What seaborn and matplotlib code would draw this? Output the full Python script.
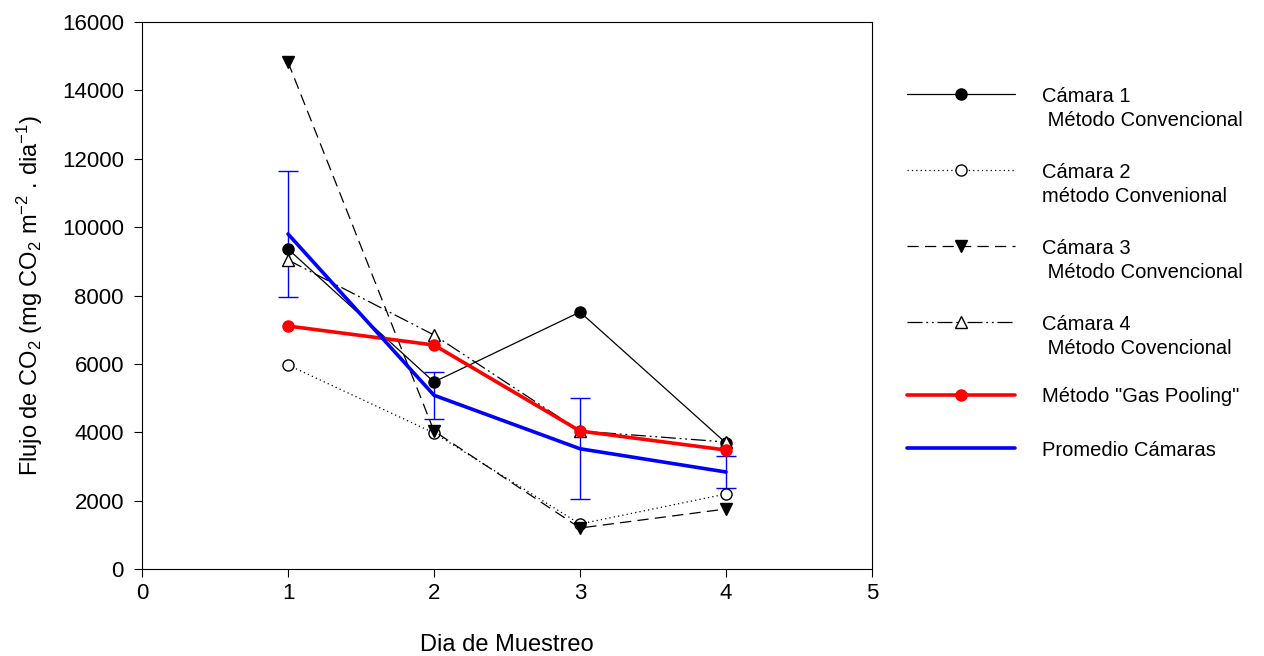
import matplotlib
matplotlib.use("Agg")
import matplotlib.pyplot as plt
import seaborn as sns
import pandas as pd

# Sampling days and CO2 fluxes (mg CO2 m-2 dia-1)
dias = [1, 2, 3, 4]
camara1 = [9360, 5470, 7517, 3685]
camara2 = [5967, 3978, 1316, 2194]
camara3 = [14829, 4036, 1199, 1755]
camara4 = [9038, 6844, 4036, 3715]
gas_pooling = [7107, 6552, 4036, 3480]
promedio = [9800, 5082, 3517, 2837]
promedio_err = [1845, 690, 1477, 482]

etiquetas = [
    ("Cámara 1", " Método Convencional"),
    ("Cámara 2", "método Convenional"),
    ("Cámara 3", " Método Convencional"),
    ("Cámara 4", " Método Covencional"),
    ('Método "Gas Pooling"', None),
    ("Promedio Cámaras", None),
]

sns.set_style("white")
plt.rcParams["font.family"] = ["Liberation Sans", "DejaVu Sans"]
plt.rcParams["mathtext.default"] = "regular"
plt.rcParams["text.color"] = "black"
plt.rcParams["axes.labelcolor"] = "black"

W, H = 1264, 656
fig = plt.figure(figsize=(W / 100, H / 100), dpi=100)
ax = fig.add_axes([142 / W, 1 - 569 / H, 730 / W, 547 / H])

estilos = [
    dict(y=camara1, color="black", lw=0.9, ls="-", marker="o", mfc="black", ms=8),
    dict(y=camara2, color="black", lw=0.9, ls=(0, (1, 2.5)), marker="o", mfc="white", ms=8),
    dict(y=camara3, color="black", lw=0.9, ls=(0, (9, 5)), marker="v", mfc="black", ms=9),
    dict(y=camara4, color="black", lw=0.9, ls=(0, (12, 3, 1.5, 3, 1.5, 3)), marker="^", mfc="white", ms=9),
    dict(y=gas_pooling, color="red", lw=2.6, ls="-", marker="o", mfc="red", ms=8),
    dict(y=promedio, color="blue", lw=2.6, ls="-", marker=None, mfc="blue", ms=0),
]

# Mean of chambers with standard error bars
ax.errorbar(dias, promedio, yerr=promedio_err, fmt="none", ecolor="blue",
            elinewidth=1.0, capsize=7, capthick=1.0, zorder=1)

handles = []
for est, (lab, _) in zip(estilos, etiquetas):
    df = pd.DataFrame({"dia": dias, "flujo": est["y"]})
    sns.lineplot(data=df, x="dia", y="flujo", ax=ax, color=est["color"],
                 linewidth=est["lw"], linestyle=est["ls"], marker=est["marker"],
                 markerfacecolor=est["mfc"], markeredgecolor=est["color"],
                 markersize=est["ms"], markeredgewidth=1.0, label=lab,
                 legend=False, zorder=3)
    handles.append(ax.lines[-1])

ax.set_xlim(0, 5)
ax.set_ylim(0, 16000)
ax.set_xticks([0, 1, 2, 3, 4, 5])
ax.set_yticks(range(0, 16001, 2000))
ax.tick_params(axis="both", direction="out", length=6, width=0.8, labelsize=16,
               left=True, bottom=True, colors="black")
ax.tick_params(axis="y", pad=7)
ax.tick_params(axis="x", pad=4)
for s in ax.spines.values():
    s.set_color("black")
    s.set_linewidth(0.8)

ax.set_xlabel("Dia de Muestreo", fontsize=17, labelpad=22)
ax.set_ylabel("Flujo de CO$_2$ (mg CO$_2$ m$^{-2}$ . dia$^{-1}$)", fontsize=17, labelpad=12)

# Legend: one entry per series, stacked to the right of the axes
fs_leg = 14.5
fila_y = [96, 172, 248, 324, 397, 450]
x_key = 907
key_px = 108
em_px = fs_leg * 100 / 72
for h, (lab, lab2), y in zip(handles, etiquetas, fila_y):
    leg = fig.legend([h], [lab], loc="center left",
                     bbox_to_anchor=(x_key / W, 1 - y / H), frameon=False,
                     fontsize=fs_leg, handlelength=key_px / em_px,
                     handletextpad=27 / em_px, borderpad=0, borderaxespad=0,
                     labelcolor="black")
    if lab2 is not None:
        fig.text(1042 / W, 1 - (y + 25) / H, lab2, fontsize=fs_leg,
                 va="center", ha="left", color="black")

fig.savefig("out.png", dpi=100)
